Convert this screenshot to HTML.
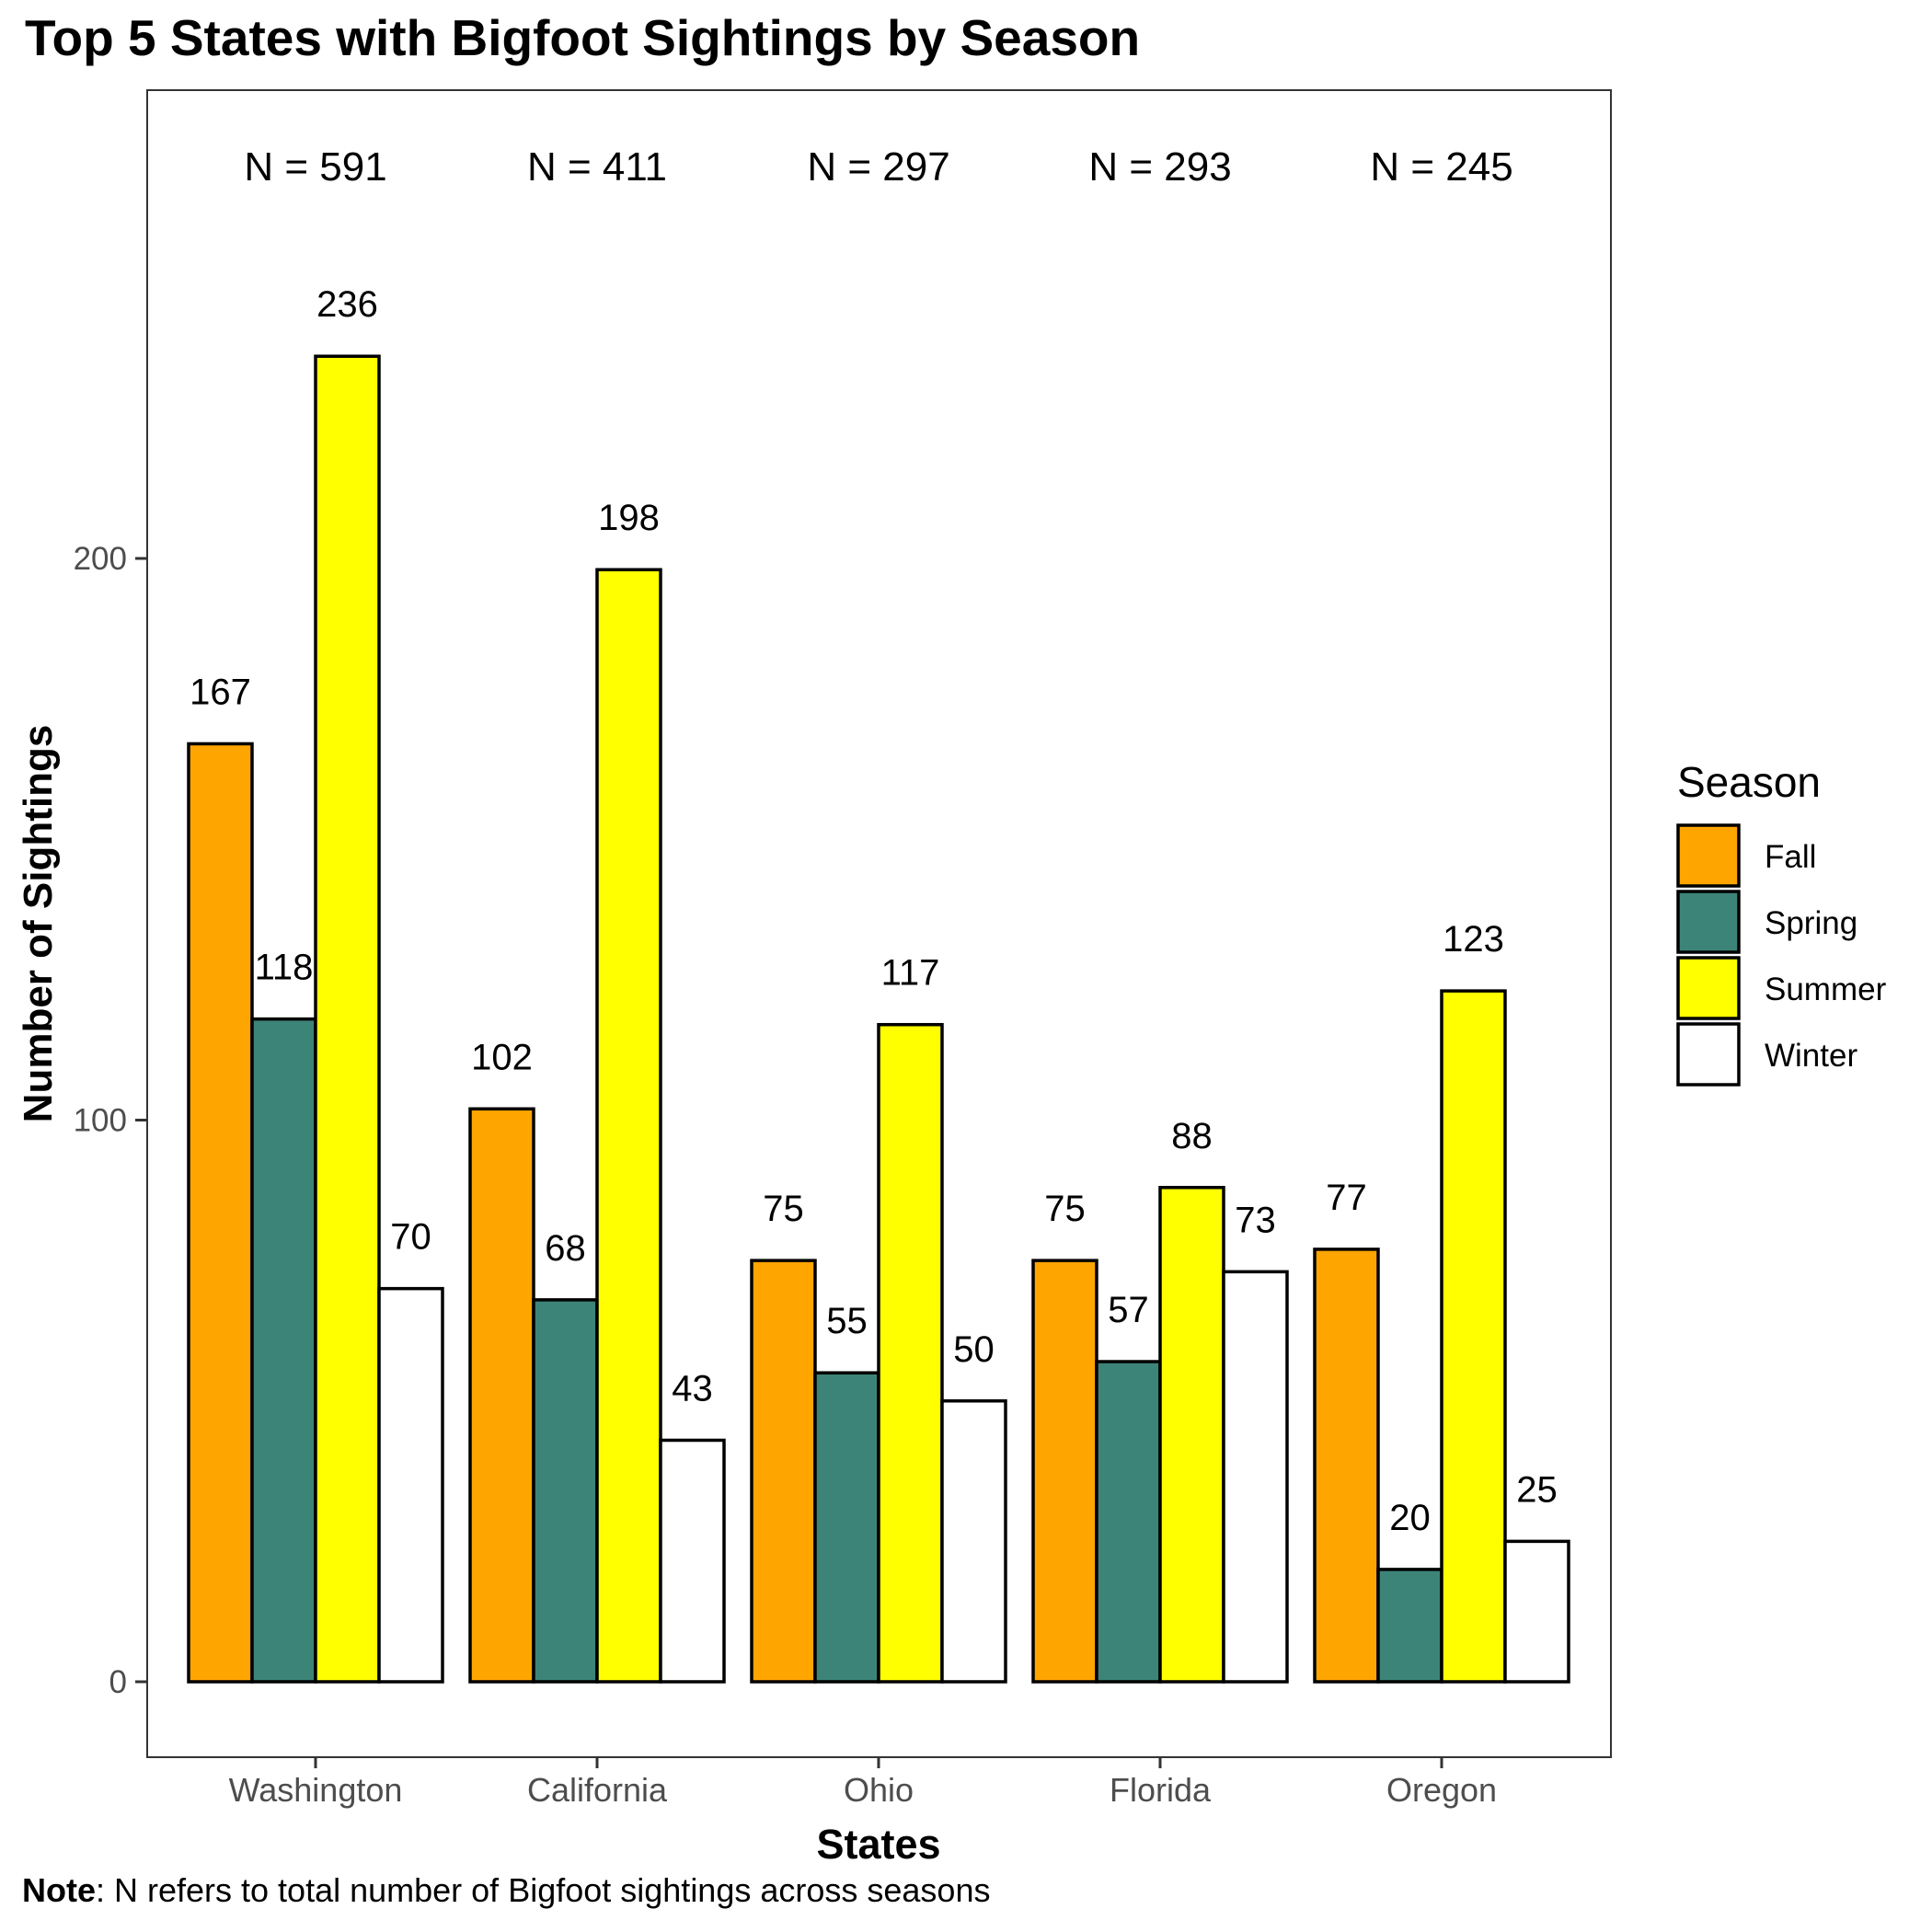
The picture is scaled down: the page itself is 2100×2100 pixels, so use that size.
<!DOCTYPE html>
<html><head><meta charset="utf-8"><style>
html,body{margin:0;padding:0;background:#fff}
svg{display:block;font-family:"Liberation Sans",Arial,sans-serif}
</style></head><body>
<svg id="chart" width="2100" height="2100" viewBox="0 0 2100 2100" xmlns="http://www.w3.org/2000/svg">
<text x="27" y="60" font-size="55" font-weight="bold" fill="#000">Top 5 States with Bigfoot Sightings by Season</text>
<rect x="160" y="98" width="1591" height="1812" fill="#fff" stroke="#333" stroke-width="2"/>
<g id="bars"></g>
<g id="labels"></g>
<g id="yaxis"></g>
<g id="xaxis"></g>
<text transform="translate(56,1004) rotate(-90)" text-anchor="middle" font-size="44" font-weight="bold">Number of Sightings</text>
<text x="955" y="2020" text-anchor="middle" font-size="45" font-weight="bold">States</text>
<text x="24" y="2067" font-size="36"><tspan font-weight="bold">Note</tspan>: N refers to total number of Bigfoot sightings across seasons</text>
<g id="legend">
<text x="1823" y="866" font-size="46">Season</text>
</g>
</svg>
<script>
const states = ["Washington","California","Ohio","Florida","Oregon"];
const seasons = ["Fall","Spring","Summer","Winter"];
const fall = [167,102,75,75,77];
const spring = [118,68,55,57,20];
const summer = [236,198,117,88,123];
const winter = [70,43,50,73,25];
const yTicks = [0,100,200];
const colors = ["#FFA500","#3D8478","#FFFF00","#FFFFFF"];
const series = [fall,spring,summer,winter];
const NS="http://www.w3.org/2000/svg";
function mk(tag,attrs,parent){const e=document.createElementNS(NS,tag);for(const k in attrs)e.setAttribute(k,attrs[k]);parent.appendChild(e);return e;}
const y0=1828, pxPerUnit=6.105;
function yScale(v){return y0-v*pxPerUnit;}
function xScale(i){return 343+i*306;}
const groupW=276, barW=groupW/4;
const bars=document.getElementById('bars'), labels=document.getElementById('labels');
const yax=document.getElementById('yaxis'), xax=document.getElementById('xaxis'), leg=document.getElementById('legend');
states.forEach((st,i)=>{
  const tot=series.reduce((a,s)=>a+s[i],0);
  const nt=mk('text',{x:xScale(i),y:196,'text-anchor':'middle','font-size':44},labels);
  nt.textContent='N = '+tot;
  
  
  series.forEach((s,j)=>{
    const x=xScale(i)-groupW/2+j*barW;
    const r=mk('rect',{x:x,y:yScale(s[i]),width:barW,height:yScale(0)-yScale(s[i]),fill:colors[j],stroke:'#000','stroke-width':3.5},bars);
    
    
    const t=mk('text',{x:x+barW/2,y:yScale(s[i])-43,'text-anchor':'middle','font-size':40},labels);
    t.textContent=s[i];
    
    
  });
  const tk=mk('line',{x1:xScale(i),x2:xScale(i),y1:1910,y2:1922,stroke:'#333','stroke-width':3},xax);
  
  
  const tl=mk('text',{x:xScale(i),y:1958,'text-anchor':'middle','font-size':36,fill:'#4d4d4d'},xax);
  tl.textContent=st;
  
  
});
yTicks.forEach(v=>{
  const tk=mk('line',{x1:147,x2:160,y1:yScale(v),y2:yScale(v),stroke:'#333','stroke-width':3},yax);
  
  
  const tl=mk('text',{x:138,y:yScale(v)+12,'text-anchor':'end','font-size':35,fill:'#4d4d4d'},yax);
  tl.textContent=v;
  
  
});
seasons.forEach((s,j)=>{
  const yy=897+j*72;
  const r=mk('rect',{x:1824,y:yy,width:66,height:66,fill:colors[j],stroke:'#000','stroke-width':3.5},leg);
  
  
  const t=mk('text',{x:1918,y:yy+46,'font-size':35},leg);
  t.textContent=s;
  
  
});
</script>
</body></html>
